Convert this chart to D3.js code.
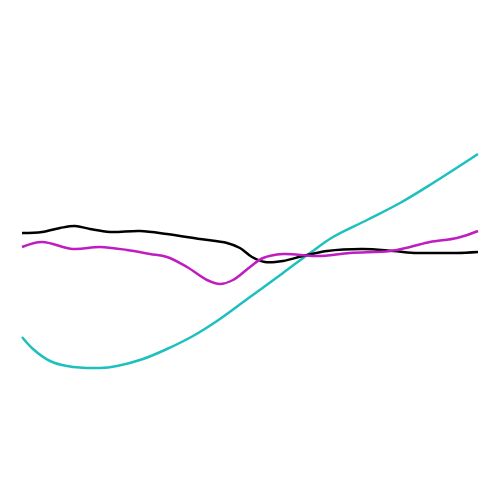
<!DOCTYPE html>
<html><head><meta charset="utf-8">
<script src="https://cdn.jsdelivr.net/npm/d3@7"></script>
<style>body{margin:0;background:#fff}</style>
</head><body>
<script>
const xs_black = [22,42,60,75,90,110,140,167,200,227,240,252,265,283,303,327,363,393,417,437,457,478];
const ys_black = [233,232,228,226,229,232,231,234,239,243,248,257,262,261,256,251,249,251,253,253,253,252];
const xs_mag = [22,42,73,100,127,150,167,187,207,220,233,250,263,283,317,350,390,410,430,457,478];
const ys_mag = [247,242,249,247,250,254,257,267,280,284,280,267,258,254,256,253,251,247,242,238,231];
const xs_cyan = [22,33,50,67,100,117,143,167,193,217,250,283,310,333,367,400,433,478];
const ys_cyan = [337,349,361,366,368,366,359,349,336,321,297,273,253,237,220,203,183,154];

const W=500,H=500;
const x = d3.scaleLinear().domain([0,500]).range([0,W]);
const y = d3.scaleLinear().domain([0,500]).range([0,H]);
const svg = d3.select("body").append("svg").attr("width",W).attr("height",H);
const line = d3.line().x(d=>x(d[0])).y(d=>y(d[1])).curve(d3.curveCatmullRom.alpha(0.5));
const series = [
  {xs:xs_cyan, ys:ys_cyan, c:"#1dbfbf"},
  {xs:xs_black, ys:ys_black, c:"#000000"},
  {xs:xs_mag, ys:ys_mag, c:"#bf1dbf"}
];
series.forEach(s=>{
  svg.append("path").datum(s.xs.map((v,i)=>[v,s.ys[i]]))
    .attr("d",line).attr("fill","none").attr("stroke",s.c).attr("stroke-width",2.5);
});
</script>
</body></html>
